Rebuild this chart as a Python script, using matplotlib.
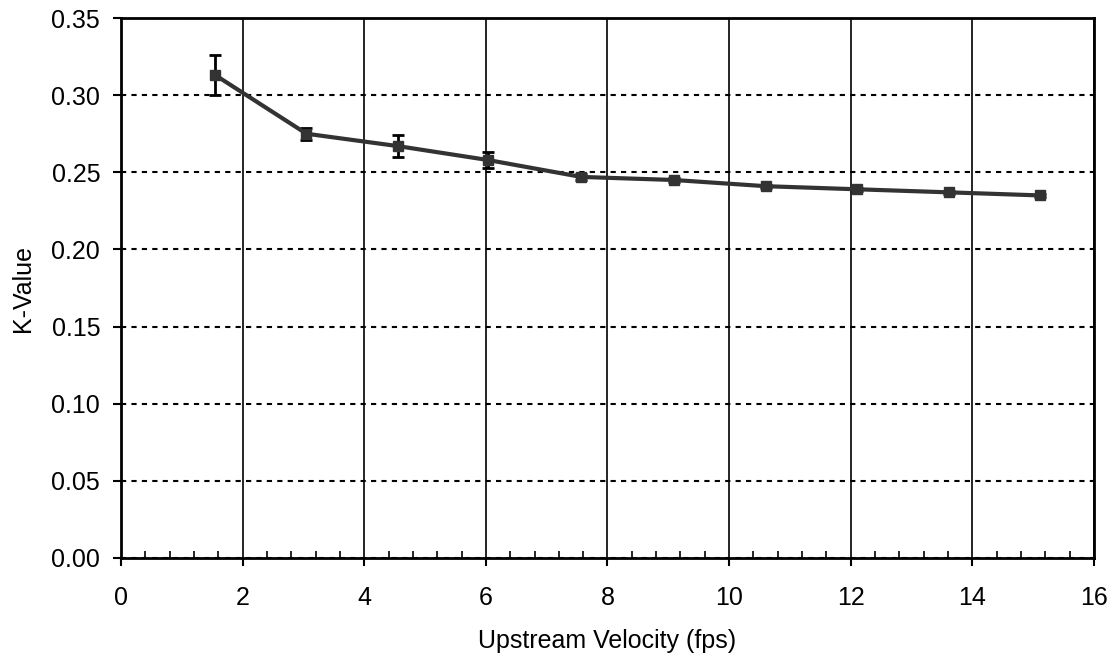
import matplotlib
matplotlib.use('Agg')
import matplotlib.pyplot as plt
from matplotlib.ticker import MultipleLocator, FormatStrFormatter

plt.rcParams['font.family'] = ['Liberation Sans', 'DejaVu Sans']

velocity = [1.55, 3.05, 4.55, 6.03, 7.57, 9.1, 10.6, 12.1, 13.62, 15.12]
k_value = [0.313, 0.275, 0.267, 0.258, 0.247, 0.245, 0.241, 0.239, 0.237, 0.235]
k_err = [0.013, 0.004, 0.007, 0.005, 0.002, 0.0015, 0.001, 0.001, 0.001, 0.001]

fig = plt.figure(figsize=(11.12, 6.58), dpi=100)
ax = fig.add_axes([0.1088, 0.152, 0.875, 0.8206])

ax.errorbar(velocity, k_value, yerr=k_err, color='#333333', lw=3,
            marker='s', ms=7, mfc='#333333', mec='#333333',
            ecolor='black', elinewidth=2, capsize=4, capthick=2, zorder=3)

ax.set_xlim(0, 16)
ax.set_ylim(0, 0.35)
ax.xaxis.set_major_locator(MultipleLocator(2))
ax.xaxis.set_minor_locator(MultipleLocator(0.4))
ax.yaxis.set_major_locator(MultipleLocator(0.05))
ax.yaxis.set_major_formatter(FormatStrFormatter('%.2f'))

ax.grid(axis='x', which='major', color='black', lw=1.2, ls='-')
ax.grid(axis='y', which='major', color='black', lw=1.5, ls=(0, (2.5, 2.5)))

ax.tick_params(axis='x', which='major', direction='out', length=6, width=1.5,
               labelsize=18, pad=14)
ax.tick_params(axis='x', which='minor', direction='in', length=5, width=1.2)
ax.tick_params(axis='y', which='major', direction='out', length=6, width=1.5,
               labelsize=18, pad=9)
for s in ax.spines.values():
    s.set_linewidth(2)

ax.set_xlabel('Upstream Velocity (fps)', fontsize=18, labelpad=14)
ax.set_ylabel('K-Value', fontsize=18, labelpad=12)

fig.savefig('out.png', dpi=100)
